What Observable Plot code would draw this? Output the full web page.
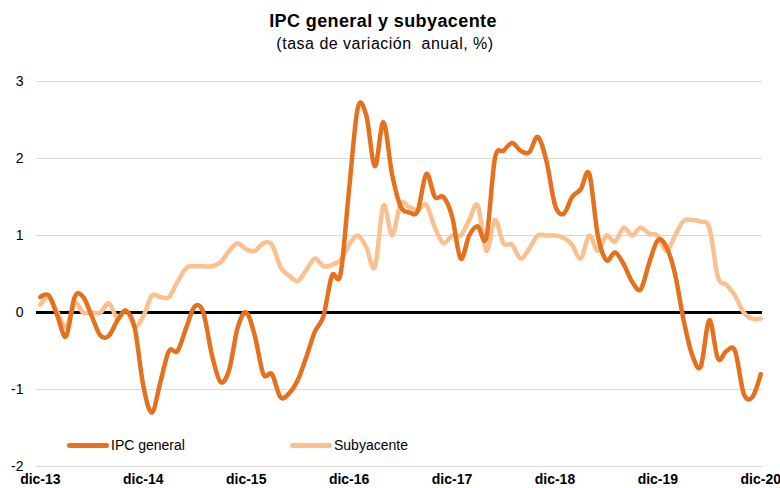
<!DOCTYPE html>
<html>
<head>
<meta charset="utf-8">
<script src="https://cdn.jsdelivr.net/npm/d3@7"></script>
<script src="https://cdn.jsdelivr.net/npm/@observablehq/plot@0.6"></script>
<style>
  html, body { margin: 0; padding: 0; background: #fff; }
  #wrap { position: relative; width: 780px; height: 488px; overflow: hidden; font-family: "Liberation Sans", Arial, sans-serif; color: #000; }
  #title { position: absolute; left: 0; width: 766px; top: 12px; text-align: center; font-weight: bold; font-size: 18px; line-height: 18px; letter-spacing: 0.4px; }
  #subtitle { position: absolute; left: 0; width: 770px; top: 36px; text-align: center; font-size: 16px; line-height: 16px; letter-spacing: 0.5px; }
  #chart { position: absolute; left: 0; top: 60px; }
  .leg { position: absolute; top: 437px; height: 16px; line-height: 16px; font-size: 14px; display: flex; align-items: center; }
  .leg .sw { display: inline-block; width: 42px; height: 5px; border-radius: 3px; margin-right: 2px; }
</style>
</head>
<body>
<div id="wrap">
  <div id="title">IPC general y subyacente</div>
  <div id="subtitle">(tasa de variación&nbsp; anual, %)</div>
  <div id="chart"></div>
  <div class="leg" style="left:67px"><span class="sw" id="sw1"></span><span>IPC general</span></div>
  <div class="leg" style="left:290px"><span class="sw" id="sw2"></span><span>Subyacente</span></div>
</div>
<script>
// Monthly series, dic-13 (index 0) to dic-20 (index 84)
const seriesNames = ["IPC general", "Subyacente"];
const ipcGeneral = [
  0.2, 0.22, -0.05, -0.31, 0.2, 0.2, -0.05, -0.3, -0.3, -0.1, 0.02, -0.2, -0.95,
  -1.3, -0.9, -0.5, -0.5, -0.2, 0.08, 0.0, -0.55, -0.9, -0.75, -0.2, 0.0,
  -0.3, -0.8, -0.8, -1.1, -1.05, -0.88, -0.58, -0.25, -0.05, 0.48, 0.5, 1.6,
  2.65, 2.56, 1.9, 2.47, 1.8, 1.38, 1.3, 1.32, 1.8, 1.5, 1.5, 1.25,
  0.7, 1.0, 1.12, 0.97, 2.0, 2.1, 2.2, 2.1, 2.08, 2.28, 1.97, 1.4,
  1.28, 1.5, 1.6, 1.8, 1.0, 0.68, 0.78, 0.63, 0.4, 0.3, 0.65, 0.94,
  0.85, 0.5, -0.1, -0.55, -0.7, -0.1, -0.6, -0.5, -0.5, -1.05, -1.1, -0.8
];
const subyacente = [
  0.1, 0.2, 0.0, -0.19, 0.12, 0.0, 0.0, 0.0, 0.12, -0.08, 0.03, -0.18, -0.05,
  0.22, 0.2, 0.2, 0.4, 0.58, 0.6, 0.6, 0.6, 0.65, 0.8, 0.9, 0.82,
  0.8, 0.9, 0.88, 0.59, 0.48, 0.41, 0.55, 0.7, 0.6, 0.62, 0.68, 0.88,
  1.0, 0.85, 0.59, 1.39, 1.0, 1.41, 1.37, 1.33, 1.4, 1.1, 0.9, 1.0,
  1.0, 1.2, 1.39, 0.8, 1.2, 0.9, 0.88, 0.7, 0.83, 1.0, 1.0, 1.0,
  0.97, 0.88, 0.7, 1.0, 0.8, 1.0, 0.92, 1.1, 1.0, 1.1, 1.02, 1.0,
  0.8, 1.0, 1.19, 1.2, 1.18, 1.1, 0.46, 0.36, 0.22, 0.0, -0.08, -0.08
];
const tickMonths = [0, 12, 24, 36, 48, 60, 72, 84];
const tickLabels = ["dic-13", "dic-14", "dic-15", "dic-16", "dic-17", "dic-18", "dic-19", "dic-20"];
const yTicks = [-2, -1, 0, 1, 2, 3];

const darkColor = "#E5701E";
const lightColor = "#FAC090";
document.getElementById("sw1").style.background = darkColor;
document.getElementById("sw2").style.background = lightColor;

const genData = ipcGeneral.map((v, i) => ({i, v, s: seriesNames[0]}));
const subData = subyacente.map((v, i) => ({i, v, s: seriesNames[1]}));

const chart = Plot.plot({
  width: 780,
  height: 428,
  marginLeft: 36,
  marginRight: 18,
  marginTop: 21,
  marginBottom: 22,
  x: {domain: [-0.45, 84.2]},
  y: {domain: [-2, 3]},
  style: {fontFamily: "'Liberation Sans', Arial, sans-serif", fontSize: "14px", color: "#000", background: "transparent", overflow: "visible"},
  marks: [
    Plot.ruleY(yTicks, {stroke: "#d9d9d9", strokeWidth: 1}),
    Plot.axisY(yTicks, {tickSize: 0, tickPadding: 13, fontSize: 14, label: null, tickFormat: (d) => String(d)}),
    Plot.axisX(tickMonths, {tickSize: 0, tickPadding: 8, fontSize: 14, fontWeight: "bold", label: null,
      tickFormat: (m) => tickLabels[tickMonths.indexOf(m)]}),
    Plot.ruleY([0], {stroke: "#000", strokeWidth: 3}),
    Plot.line(subData, {x: "i", y: "v", stroke: lightColor, strokeWidth: 4.5, curve: "cardinal"}),
    Plot.line(genData, {x: "i", y: "v", stroke: darkColor, strokeWidth: 4.5, curve: "cardinal"})
  ]
});
document.getElementById("chart").appendChild(chart);
</script>
</body>
</html>
